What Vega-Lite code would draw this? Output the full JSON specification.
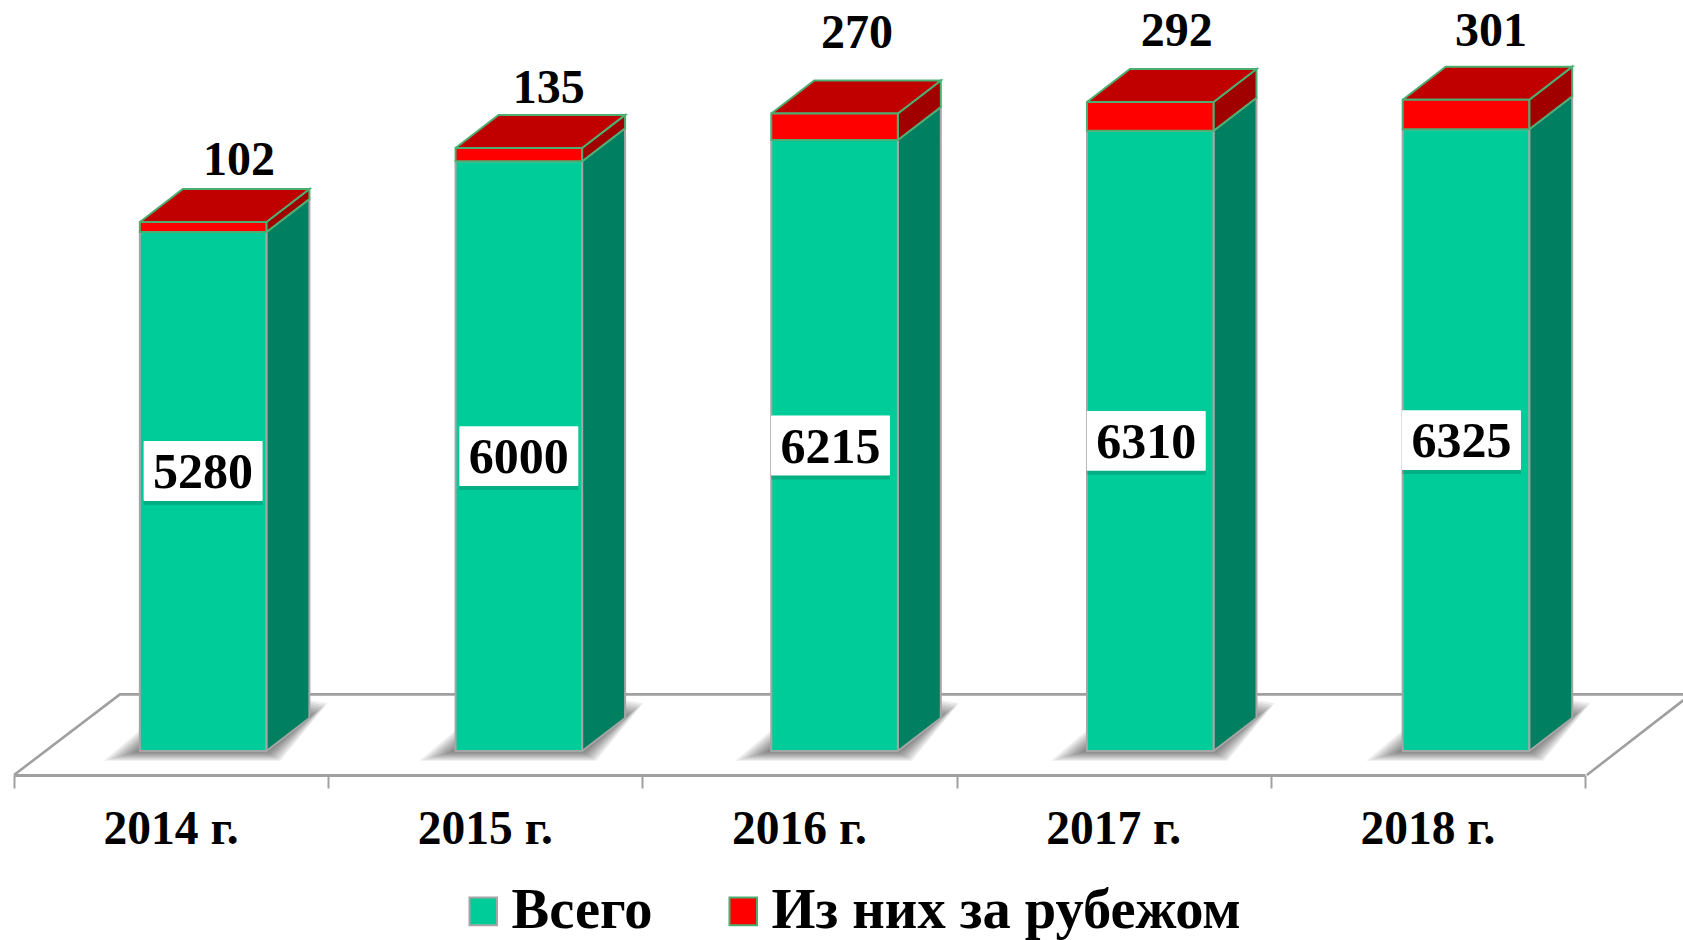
{
"$schema":"https://vega.github.io/schema/vega-lite/v6.json",
"width":1571,"height":775,
"autosize":{"type":"none"},
"padding":{"left":14,"top":0,"right":98,"bottom":165},
"background":"#ffffff",
"view":{"stroke":null},
"config":{"axisX":{"grid":false,"labels":false,"tickCount":5,"domainColor":"#a0a0a0","domainWidth":3,"tickColor":"#a0a0a0","tickWidth":2,"tickSize":13}},
"data":{"values":[
{"year":"2014 г.","slot":0,"Всего":5280,"Из них за рубежом":102},
{"year":"2015 г.","slot":1,"Всего":6000,"Из них за рубежом":135},
{"year":"2016 г.","slot":2,"Всего":6215,"Из них за рубежом":270},
{"year":"2017 г.","slot":3,"Всего":6310,"Из них за рубежом":292},
{"year":"2018 г.","slot":4,"Всего":6325,"Из них за рубежом":301}
]},
"transform":[
{"fold":["Всего","Из них за рубежом"],"as":["series","val"]},
{"calculate":"datum.series=='Всего'?0:datum['Всего']","as":"y0"},
{"calculate":"datum.y0+datum.val","as":"y1"},
{"calculate":"datum.slot*1.0048+0.4005","as":"xl"},
{"calculate":"datum.xl+0.4028","as":"xr"}
],
"layer":[
{"transform":[{"filter":"datum.slot==0 && datum.series=='Всего'"},
{"calculate":"[0,1,2,3]","as":"v"},{"flatten":["v"]},
{"calculate":"[0,0.337,5.337,5.006][datum.v]","as":"px"},
{"calculate":"[-244,576,576,-244][datum.v]","as":"py"}],
"mark":{"type":"line","stroke":"#a0a0a0","strokeWidth":2.6,"clip":false},
"encoding":{
"x":{"field":"px","type":"quantitative","title":null,"scale":{"domain":[0,5],"nice":false,"zero":false}},
"y":{"field":"py","type":"quantitative","scale":{"domain":[-244,7640],"nice":false,"zero":false},"axis":null},
"order":{"field":"v"}}},
{"transform":[{"filter":"datum.series=='Всего'"},
{"calculate":"[1,0.88,0.76,0.64,0.52,0.4,0.28,0.16]","as":"s"},{"flatten":["s"]},
{"calculate":"[0,1,2,3,4,5,6]","as":"v"},{"flatten":["v"]},
{"calculate":"[datum.xl,datum.xr,datum.xr+0.1368,datum.xr+0.1368,datum.xr,datum.xl,datum.xl][datum.v]+datum.s*[-36,14,18,0,0,0,0][datum.v]*0.003183","as":"px"},
{"calculate":"[0,0,336,336,0,0,0][datum.v]+datum.s*[-100,-100,150,180,0,0,210][datum.v]","as":"py"}],
"mark":{"type":"line","fill":"#000000","fillOpacity":0.07,"strokeOpacity":0,"strokeWidth":0,"clip":false},
"encoding":{"x":{"field":"px","type":"quantitative","title":null},"y":{"field":"py","type":"quantitative","axis":null},
"order":{"field":"v"},"detail":[{"field":"year"},{"field":"s"}]}},
{"transform":[
{"calculate":"[0,1,2,3,4]","as":"v"},{"flatten":["v"]},
{"calculate":"datum.xr+[0,1,1,0,0][datum.v]*0.1368","as":"px"},
{"calculate":"[datum.y0,datum.y0,datum.y1,datum.y1,datum.y0][datum.v]+[0,1,1,0,0][datum.v]*336","as":"py"},
{"filter":"datum.series=='Всего'"}],
"mark":{"type":"line","fill":"#008060","stroke":"#a6a6a6","strokeWidth":2,"clip":false},
"encoding":{"x":{"field":"px","type":"quantitative","title":null},"y":{"field":"py","type":"quantitative","axis":null},
"order":{"field":"v"},"detail":{"field":"year"}}},
{"transform":[
{"calculate":"[0,1,2,3,4]","as":"v"},{"flatten":["v"]},
{"calculate":"datum.xr+[0,1,1,0,0][datum.v]*0.1368","as":"px"},
{"calculate":"[datum.y0,datum.y0,datum.y1,datum.y1,datum.y0][datum.v]+[0,1,1,0,0][datum.v]*336","as":"py"},
{"filter":"datum.series!='Всего'"}],
"mark":{"type":"line","fill":"#a00000","stroke":"#4caf72","strokeWidth":2,"clip":false},
"encoding":{"x":{"field":"px","type":"quantitative","title":null},"y":{"field":"py","type":"quantitative","axis":null},
"order":{"field":"v"},"detail":{"field":"year"}}},
{"transform":[
{"filter":"datum.series!='Всего'"},
{"calculate":"[0,1,2,3,4]","as":"v"},{"flatten":["v"]},
{"calculate":"[datum.xl,datum.xr,datum.xr+0.1368,datum.xl+0.1368,datum.xl][datum.v]","as":"px"},
{"calculate":"datum.y1+[0,0,336,336,0][datum.v]","as":"py"}],
"mark":{"type":"line","fill":"#c00000","stroke":"#4caf72","strokeWidth":2,"clip":false},
"encoding":{"x":{"field":"px","type":"quantitative","title":null},"y":{"field":"py","type":"quantitative","axis":null},
"order":{"field":"v"},"detail":{"field":"year"}}},
{"mark":{"type":"rect","strokeWidth":2,"clip":false},
"encoding":{
"x":{"field":"xl","type":"quantitative","title":null},"x2":{"field":"xr"},
"y":{"field":"y0","type":"quantitative","axis":null},"y2":{"field":"y1"},
"fill":{"field":"series","type":"nominal","sort":["Всего","Из них за рубежом"],"scale":{"domain":["Всего","Из них за рубежом"],"range":["#00cc99","#ff0000"]},
"legend":{"title":null,"orient":"none","legendX":441,"legendY":883,"direction":"horizontal","symbolType":"square","symbolSize":760,"symbolStrokeWidth":2,"labelFont":"Liberation Serif","labelFontWeight":"bold","labelFontSize":56.5,"labelColor":"#000000","labelOffset":0,"columnPadding":62,"labelLimit":600,"symbolOpacity":1}},
"stroke":{"field":"series","type":"nominal","sort":["Всего","Из них за рубежом"],"scale":{"domain":["Всего","Из них за рубежом"],"range":["#a6a6a6","#4caf72"]},
"legend":{"title":null,"orient":"none","legendX":441,"legendY":883,"direction":"horizontal","symbolType":"square","symbolSize":760,"symbolStrokeWidth":2,"labelFont":"Liberation Serif","labelFontWeight":"bold","labelFontSize":56.5,"labelColor":"#000000","labelOffset":0,"columnPadding":62,"labelLimit":600,"symbolOpacity":1}}
}},
{"transform":[{"filter":"datum.series=='Всего'"},
{"calculate":"(datum.xl+datum.xr)/2+[0,0,-4,-4,-4.5][datum.slot]*0.003183","as":"cx"},
{"calculate":"datum.val/2+[208,0,0,0,0][datum.slot]","as":"cy"},
{"calculate":"datum.cx-0.1894","as":"bx0"},{"calculate":"datum.cx+0.1894","as":"bx1"},
{"calculate":"datum.cy-345","as":"by0"},{"calculate":"datum.cy+295","as":"by1"}],
"mark":{"type":"rect","fill":"#000000","opacity":0.14,"clip":false},
"encoding":{"x":{"field":"bx0","type":"quantitative","title":null},"x2":{"field":"bx1"},"y":{"field":"by0","type":"quantitative","axis":null},"y2":{"field":"by1"}}},
{"transform":[{"filter":"datum.series=='Всего'"},
{"calculate":"(datum.xl+datum.xr)/2+[0,0,-4,-4,-4.5][datum.slot]*0.003183","as":"cx"},
{"calculate":"datum.val/2+[208,0,0,0,0][datum.slot]","as":"cy"},
{"calculate":"datum.cx-0.1894","as":"bx0"},{"calculate":"datum.cx+0.1894","as":"bx1"},
{"calculate":"datum.cy-305","as":"by0"},{"calculate":"datum.cy+305","as":"by1"}],
"mark":{"type":"rect","fill":"#ffffff","cornerRadius":1,"clip":false},
"encoding":{"x":{"field":"bx0","type":"quantitative","title":null},"x2":{"field":"bx1"},"y":{"field":"by0","type":"quantitative","axis":null},"y2":{"field":"by1"}}},
{"transform":[{"filter":"datum.series=='Всего'"},
{"calculate":"(datum.xl+datum.xr)/2+[0,0,-4,-4,-4.5][datum.slot]*0.003183","as":"cx"},
{"calculate":"datum.val/2+[208,0,0,0,0][datum.slot]-20","as":"cy"}],
"mark":{"type":"text","font":"Liberation Serif","fontWeight":"bold","fontSize":50,"color":"#000000","baseline":"middle","align":"center","clip":false},
"encoding":{"x":{"field":"cx","type":"quantitative","title":null},"y":{"field":"cy","type":"quantitative","axis":null},"text":{"field":"val","type":"quantitative","format":"d"}}},
{"transform":[{"filter":"datum.series!='Всего'"},
{"calculate":"(datum.xl+datum.xr)/2+[36,30,22.5,26.5,25][datum.slot]*0.003183","as":"cx"},
{"calculate":"datum.y1+[61,59,79.5,70,68][datum.slot]*10.173","as":"cy"}],
"mark":{"type":"text","font":"Liberation Serif","fontWeight":"bold","fontSize":48,"color":"#000000","baseline":"middle","align":"center","clip":false},
"encoding":{"x":{"field":"cx","type":"quantitative","title":null},"y":{"field":"cy","type":"quantitative","axis":null},"text":{"field":"val","type":"quantitative","format":"d"}}},
{"transform":[{"filter":"datum.series=='Всего'"},
{"calculate":"datum.slot+0.5","as":"cx"},
{"calculate":"-800","as":"cy"}],
"mark":{"type":"text","font":"Liberation Serif","fontWeight":"bold","fontSize":47.5,"color":"#000000","baseline":"middle","align":"center","clip":false},
"encoding":{"x":{"field":"cx","type":"quantitative","title":null},"y":{"field":"cy","type":"quantitative","axis":null},"text":{"field":"year","type":"nominal"}}}
]
}
